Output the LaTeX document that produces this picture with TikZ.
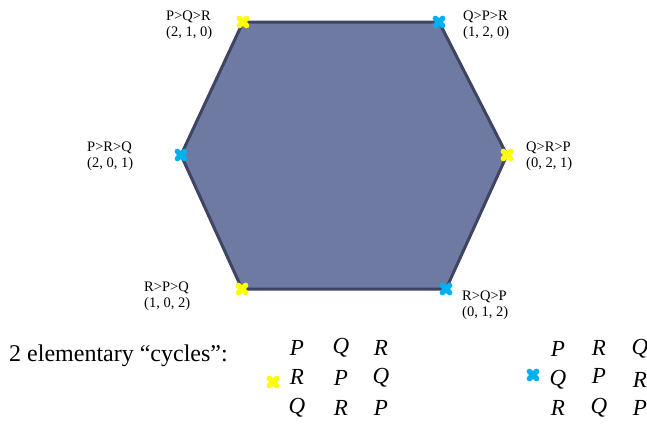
\documentclass[tikz,border=0pt]{standalone}
\usepackage{fontspec}
\setmainfont{Liberation Serif}
\begin{document}
\begin{tikzpicture}[x=1pt,y=-1pt,
  lbl/.style={anchor=west,align=left,font=\fontsize{14.5}{16.5}\selectfont,inner sep=0pt},
  mat/.style={font=\fontsize{23}{23}\selectfont\itshape,inner sep=0pt},
]
\useasboundingbox (0,0) rectangle (647,423);
\definecolor{hexfill}{HTML}{6E7AA1}
\definecolor{hexline}{HTML}{3F4462}
\definecolor{mcyan}{HTML}{00B0F0}
\definecolor{myel}{HTML}{FFFF00}
\coordinate (v1) at (243,22);
\coordinate (v2) at (439,22);
\coordinate (v3) at (507,155);
\coordinate (v4) at (446,289);
\coordinate (v5) at (242,289);
\coordinate (v6) at (181,155);
\draw[fill=hexfill,draw=hexline,line width=3pt,line join=miter] (v1)--(v2)--(v3)--(v4)--(v5)--(v6)--cycle;
\tikzset{xm/.pic={\draw[line width=5.5pt,line cap=round,#1] (-3.6,-3.6)--(3.6,3.6) (-3.6,3.6)--(3.6,-3.6);}}
\pic at (v1) {xm=myel};
\pic at (v2) {xm=mcyan};
\pic at (v3) {xm=myel};
\pic at (v4) {xm=mcyan};
\pic at (v5) {xm=myel};
\pic at (v6) {xm=mcyan};
\node[lbl] (l1) at (166,25) {P>Q>R\\(2, 1, 0)};
\node[lbl] (l2) at (463,25) {Q>P>R\\(1, 2, 0)};
\node[lbl] (l6) at (87,156) {P>R>Q\\(2, 0, 1)};
\node[lbl] (l3) at (526,156) {Q>R>P\\(0, 2, 1)};
\node[lbl] (l5) at (144,296) {R>P>Q\\(1, 0, 2)};
\node[lbl] (l4) at (462,305) {R>Q>P\\(0, 1, 2)};
\node[anchor=west,inner sep=0pt,font=\fontsize{24}{24}\selectfont] (t) at (9,356) {2 elementary “cycles”:};
% left matrix
\node[mat] (a11) at (297,348) {P}; \node[mat] (a12) at (341,348) {Q}; \node[mat] (a13) at (381,348) {R};
\node[mat] (a21) at (297,377) {R}; \node[mat] (a22) at (341,378) {P}; \node[mat] (a23) at (381,378) {Q};
\node[mat] (a31) at (297,408) {Q}; \node[mat] (a32) at (341,408) {R}; \node[mat] (a33) at (381,408) {P};
\pic at (273,382) {xm=myel};
% right matrix
\node[mat] (b11) at (558,349) {P}; \node[mat] (b12) at (599,348) {R}; \node[mat] (b13) at (640,349) {Q};
\node[mat] (b21) at (558,380) {Q}; \node[mat] (b22) at (599,376) {P}; \node[mat] (b23) at (640,380) {R};
\node[mat] (b31) at (558,408) {R}; \node[mat] (b32) at (599,408) {Q}; \node[mat] (b33) at (640,408) {P};
\pic at (533,375) {xm=mcyan};
\end{tikzpicture}
\end{document}
